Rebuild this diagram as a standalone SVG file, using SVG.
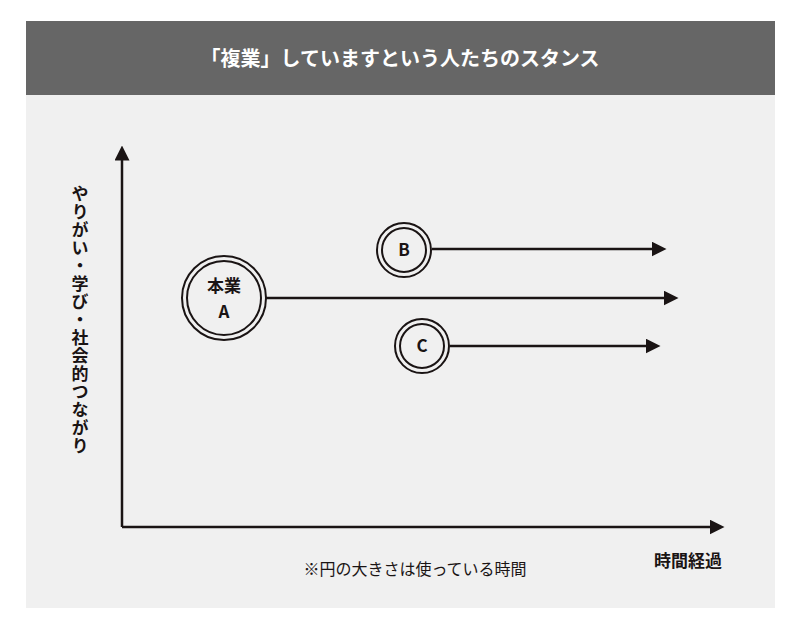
<svg xmlns="http://www.w3.org/2000/svg" width="800" height="633" viewBox="0 0 800 633">
<style>
text{font-family:"Noto Sans CJK JP","Noto Sans",sans-serif;fill:#1a1414}
.o{fill:none;stroke:#1a1414;stroke-width:2}
.i{fill:#f0f0f0;stroke:#1a1414;stroke-width:2}
.l{stroke:#1a1414;stroke-width:2.5;fill:none}
.b{font-weight:bold;font-size:17px;text-anchor:middle}
</style>
<defs>
<marker id="ah" markerWidth="6" markerHeight="6" refX="1" refY="3" orient="auto" markerUnits="strokeWidth"><path d="M0,0L6,3L0,6z" fill="#1a1414"/></marker>
</defs>
<rect width="800" height="633" fill="#fff"/>
<rect x="26" y="21" width="749" height="587" fill="#f0f0f0"/>
<rect x="26" y="21" width="749" height="74" fill="#666"/>
<text x="400" y="66" font-size="20" text-anchor="middle" style="fill:#fff" font-weight="bold">「複業」していますという人たちのスタンス</text>
<g id="connectors">
<path class="l" d="M122,527V158" marker-end="url(#ah)"/>
<path class="l" d="M122,527H712" marker-end="url(#ah)"/>
<path class="l" d="M432,249H654" marker-end="url(#ah)"/>
<path class="l" d="M266,298H666" marker-end="url(#ah)"/>
<path class="l" d="M450,346H648" marker-end="url(#ah)"/>
</g>
<g id="nodeA"><circle class="o" cx="224" cy="298" r="42"/><circle class="i" cx="224" cy="298" r="37"/>
<text class="b" x="224" y="292">本業</text><text class="b" x="224" y="318">A</text></g>
<g id="nodeB"><circle class="o" cx="404" cy="250" r="27"/><circle class="i" cx="404" cy="250" r="22"/>
<text class="b" x="404" y="256">B</text></g>
<g id="nodeC"><circle class="o" cx="422" cy="346" r="27"/><circle class="i" cx="422" cy="346" r="22"/>
<text class="b" x="422" y="352">C</text></g>
<g id="yLabel"><text x="80" y="185" font-size="17" font-weight="bold" style="writing-mode:vertical-rl;letter-spacing:1px">やりがい・学び・社会的つながり</text></g>
<g id="xLabel"><text x="688" y="567" font-size="17" font-weight="bold" text-anchor="middle">時間経過</text></g>
<g id="note"><text x="415" y="575" font-size="16" text-anchor="middle">※円の大きさは使っている時間</text></g>
</svg>
